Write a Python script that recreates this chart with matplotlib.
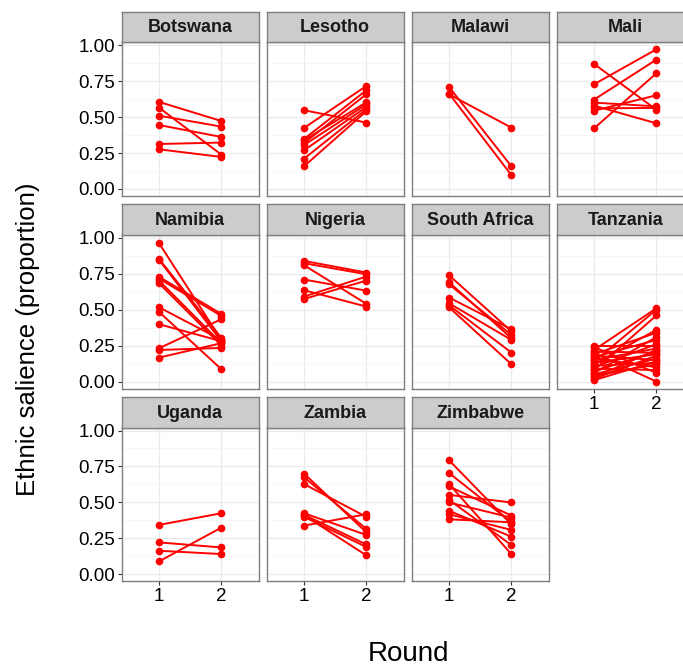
import matplotlib
matplotlib.use("Agg")
import matplotlib.pyplot as plt
from matplotlib.ticker import MultipleLocator

plt.rcParams['font.family'] = ['Liberation Sans', 'DejaVu Sans']

# ethnic salience per respondent group, round 1 -> round 2
botswana_r1 = [0.606, 0.566, 0.51, 0.445, 0.313, 0.276]
botswana_r2 = [0.473, 0.239, 0.434, 0.362, 0.323, 0.223]

lesotho_r1 = [0.548, 0.425, 0.348, 0.339, 0.32, 0.306, 0.269, 0.211, 0.158]
lesotho_r2 = [0.462, 0.717, 0.687, 0.603, 0.659, 0.589, 0.571, 0.555, 0.541]

malawi_r1 = [0.71, 0.664, 0.659]
malawi_r2 = [0.158, 0.097, 0.427]

mali_r1 = [0.87, 0.729, 0.622, 0.601, 0.58, 0.561, 0.545, 0.422]
mali_r2 = [0.552, 0.972, 0.90, 0.575, 0.457, 0.564, 0.652, 0.805]

namibia_r1 = [0.963, 0.854, 0.847, 0.729, 0.717, 0.703, 0.684, 0.517, 0.485,
              0.399, 0.232, 0.220, 0.167]
namibia_r2 = [0.29, 0.304, 0.281, 0.471, 0.457, 0.267, 0.251, 0.29, 0.086,
              0.281, 0.434, 0.234, 0.267]

nigeria_r1 = [0.84, 0.824, 0.81, 0.71, 0.636, 0.592, 0.575]
nigeria_r2 = [0.759, 0.747, 0.541, 0.633, 0.522, 0.731, 0.703]

south_africa_r1 = [0.74, 0.691, 0.677, 0.585, 0.545, 0.531, 0.517]
south_africa_r2 = [0.35, 0.302, 0.325, 0.364, 0.29, 0.202, 0.121]

tanzania_r1 = [0.25, 0.24, 0.22, 0.21, 0.20, 0.19, 0.18, 0.17, 0.16, 0.15,
               0.14, 0.13, 0.12, 0.11, 0.10, 0.09, 0.08, 0.07, 0.06, 0.05,
               0.04, 0.03, 0.02, 0.01]
tanzania_r2 = [0.25, 0.06, 0.51, 0.20, 0.00, 0.34, 0.15, 0.29, 0.10, 0.23,
               0.50, 0.19, 0.36, 0.13, 0.26, 0.08, 0.46, 0.21, 0.31, 0.16,
               0.12, 0.22, 0.18, 0.14]

uganda_r1 = [0.343, 0.221, 0.163, 0.089]
uganda_r2 = [0.424, 0.186, 0.14, 0.324]

zambia_r1 = [0.70, 0.674, 0.627, 0.424, 0.413, 0.41, 0.399, 0.338]
zambia_r2 = [0.291, 0.315, 0.399, 0.273, 0.207, 0.131, 0.189, 0.417]

zimbabwe_r1 = [0.793, 0.704, 0.627, 0.611, 0.552, 0.517, 0.499, 0.441, 0.417, 0.382]
zimbabwe_r2 = [0.347, 0.361, 0.14, 0.408, 0.499, 0.203, 0.394, 0.261, 0.308, 0.361]

countries = ["Botswana", "Lesotho", "Malawi", "Mali", "Namibia", "Nigeria",
             "South Africa", "Tanzania", "Uganda", "Zambia", "Zimbabwe"]
series = [(botswana_r1, botswana_r2), (lesotho_r1, lesotho_r2),
          (malawi_r1, malawi_r2), (mali_r1, mali_r2),
          (namibia_r1, namibia_r2), (nigeria_r1, nigeria_r2),
          (south_africa_r1, south_africa_r2), (tanzania_r1, tanzania_r2),
          (uganda_r1, uganda_r2), (zambia_r1, zambia_r2),
          (zimbabwe_r1, zimbabwe_r2)]
rounds = [1, 2]
y_ticks = [0.0, 0.25, 0.5, 0.75, 1.0]

W, H = 683, 667
fig = plt.figure(figsize=(W / 100, H / 100), dpi=100)

# facet geometry in pixels
col_left = [121.7, 266.7, 411.7, 556.7]
panel_w = 137.0
strip_top = [11.7, 204.3, 396.9]
strip_h = 30.6
panel_h = 153.7
border = "#7f7f7f"


def px_rect(x, y, w, h):
    return [x / W, 1 - (y + h) / H, w / W, h / H]


def draw_panel(i, name, r1, r2):
    row, col = divmod(i, 4)
    x0 = col_left[col]
    y0 = strip_top[row]
    ax = fig.add_axes(px_rect(x0, y0 + strip_h, panel_w, panel_h))
    ax.set_xlim(0.4, 2.6)
    ax.set_ylim(-0.049, 1.021)
    ax.yaxis.set_major_locator(MultipleLocator(0.25))
    ax.yaxis.set_minor_locator(MultipleLocator(0.125))
    ax.set_xticks(rounds)
    ax.grid(which="major", color="#ebebeb", lw=0.9)
    ax.grid(which="minor", axis="y", color="#f5f5f5", lw=0.6)
    ax.set_axisbelow(True)
    for a, b in zip(r1, r2):
        ax.plot(rounds, [a, b], color="#ff0000", lw=1.4, marker="o",
                markersize=4.5, solid_capstyle="round")
    for s in ax.spines.values():
        s.set_color(border)
        s.set_linewidth(1.0)
    ax.tick_params(which="major", length=3, width=0.8, color="#333333",
                   labelsize=13.5, labelcolor="black", pad=2)
    ax.tick_params(which="minor", length=0)
    if col == 0:
        ax.set_yticks(y_ticks)
        ax.set_yticklabels(["%.2f" % v for v in y_ticks])
    else:
        ax.tick_params(axis="y", which="both", left=False, labelleft=False)
    bottom = row == 2 or (row == 1 and col == 3)
    if not bottom:
        ax.tick_params(axis="x", bottom=False, labelbottom=False)

    st = fig.add_axes(px_rect(x0, y0, panel_w, strip_h))
    st.set_facecolor("#cccccc")
    st.set_xticks([])
    st.set_yticks([])
    for s in st.spines.values():
        s.set_color(border)
        s.set_linewidth(1.0)
    st.text(0.5, 0.47, name, transform=st.transAxes, ha="center",
            va="center", fontsize=13, fontweight="bold", color="#1a1a1a")


for i, (name, (r1, r2)) in enumerate(zip(countries, series)):
    draw_panel(i, name, r1, r2)

fig.text(408 / W, 1 - 654 / H, "Round", ha="center", va="center", fontsize=20)
fig.text(28 / W, 1 - 339 / H, "Ethnic salience (proportion)", ha="center",
         va="center", rotation=90, fontsize=18.5)

fig.savefig("out.png", dpi=100)
